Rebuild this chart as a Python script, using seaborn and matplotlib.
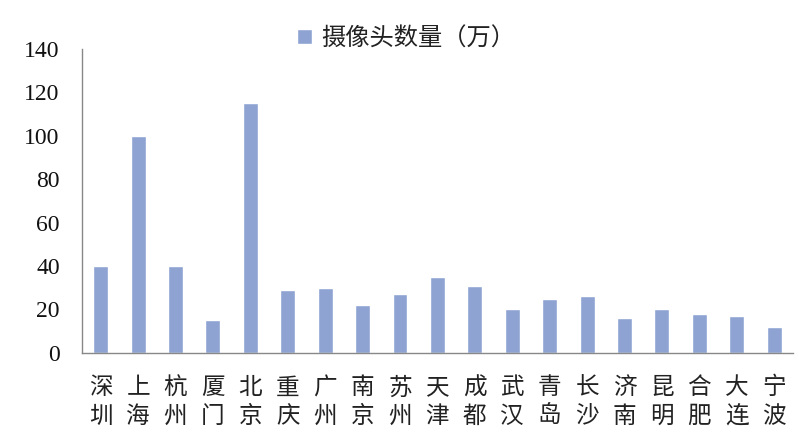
import matplotlib
matplotlib.use("Agg")
import matplotlib.pyplot as plt
import seaborn as sns
import pandas as pd
import numpy as np

cities = ["深圳", "上海", "杭州", "厦门", "北京", "重庆", "广州", "南京", "苏州", "天津",
          "成都", "武汉", "青岛", "长沙", "济南", "昆明", "合肥", "大连", "宁波"]
cameras = [40, 100, 40, 15, 115, 29, 30, 22, 27, 35, 31, 20, 25, 26, 16, 20, 18, 17, 12]
series_name = "摄像头数量（万）"
yticks = [0, 20, 40, 60, 80, 100, 120, 140]

sns.set_style("white")
plt.rcParams['font.family'] = ['Noto Sans CJK SC', 'DejaVu Sans']

df = pd.DataFrame({"city": cities, "value": cameras, "series": series_name})

fig = plt.figure(figsize=(8, 4.41), dpi=100)
ax = fig.add_axes([0.1025, 0.2, 0.8885, 0.689])

sns.barplot(data=df, x="city", y="value", hue="series", palette=["#8FA3D3"],
            width=0.4, ax=ax, saturation=1)

ax.set_ylim(0, 140)
ax.set_xlim(-0.5, len(cities) - 0.5)
ax.set_yticks(yticks)
ax.set_yticklabels([str(v) for v in yticks], family=['Liberation Serif'], fontsize=17,
                   color="#111111")
ax.set_xticks(range(len(cities)))
ax.set_xticklabels(["\n".join(c) for c in cities], fontsize=17, linespacing=1.3,
                   color="#222222")
ax.set_xticks(np.arange(-0.5, len(cities), 1.0), minor=True)
ax.tick_params(axis="x", which="major", length=0, pad=17)
ax.tick_params(axis="x", which="minor", length=6, color="#888888", width=1, direction="out")
ax.tick_params(axis="y", length=8, color="#888888", width=1, direction="out", pad=8)
ax.set_xlabel("")
ax.set_ylabel("")
for s in ["top", "right"]:
    ax.spines[s].set_visible(False)
for s in ["left", "bottom"]:
    ax.spines[s].set_color("#888888")
    ax.spines[s].set_linewidth(1)

leg = ax.legend(loc="upper center", bbox_to_anchor=(0.456, 1.15), frameon=False,
                fontsize=17.5, handlelength=0.6, handleheight=0.6, handletextpad=0.4)
for t in leg.get_texts():
    t.set_color("#222222")

fig.savefig("out.png", dpi=100)
